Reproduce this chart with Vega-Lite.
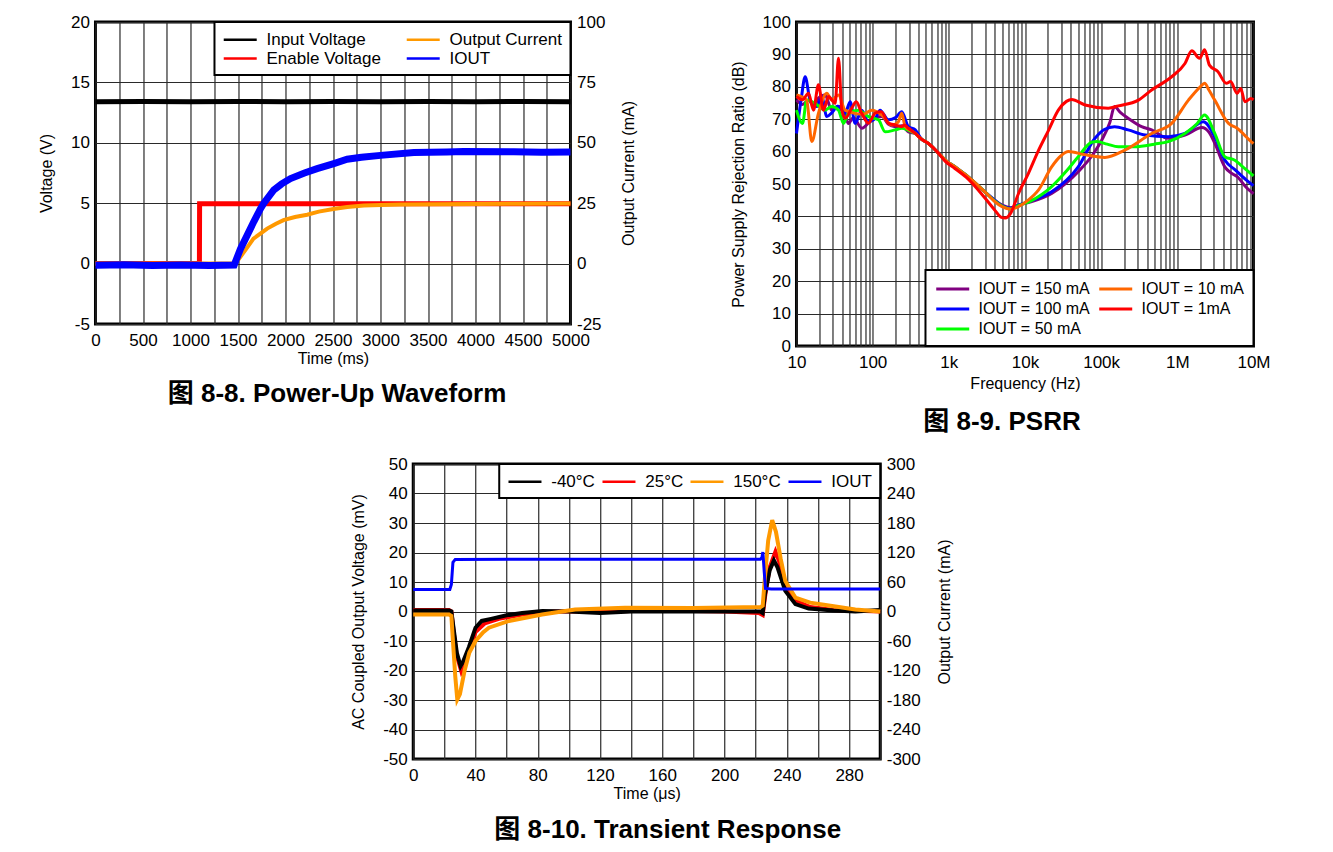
{
  "$schema": "https://vega.github.io/schema/vega-lite/v6.json",
  "background": "white",
  "padding": {"left": 37, "top": 11, "right": 0, "bottom": 0},
  "datasets": {
    "p1v": [
      {"t": 0, "v": 13.4, "series": "Input Voltage"},
      {"t": 500, "v": 13.42, "series": "Input Voltage"},
      {"t": 1000, "v": 13.4, "series": "Input Voltage"},
      {"t": 1500, "v": 13.42, "series": "Input Voltage"},
      {"t": 2000, "v": 13.4, "series": "Input Voltage"},
      {"t": 2500, "v": 13.42, "series": "Input Voltage"},
      {"t": 3000, "v": 13.4, "series": "Input Voltage"},
      {"t": 3500, "v": 13.42, "series": "Input Voltage"},
      {"t": 4000, "v": 13.4, "series": "Input Voltage"},
      {"t": 4500, "v": 13.42, "series": "Input Voltage"},
      {"t": 5000, "v": 13.4, "series": "Input Voltage"},
      {"t": 0, "v": 0, "series": "Enable Voltage"},
      {"t": 1094, "v": 0, "series": "Enable Voltage"},
      {"t": 1096, "v": 4.96, "series": "Enable Voltage"},
      {"t": 5000, "v": 4.96, "series": "Enable Voltage"}
    ],
    "p1i": [
      {"t": 0, "i": 0, "series": "Output Current"},
      {"t": 1474, "i": 0, "series": "Output Current"},
      {"t": 1520, "i": 2.5, "series": "Output Current"},
      {"t": 1600, "i": 6.8, "series": "Output Current"},
      {"t": 1663, "i": 10.3, "series": "Output Current"},
      {"t": 1750, "i": 12.8, "series": "Output Current"},
      {"t": 1807, "i": 14.5, "series": "Output Current"},
      {"t": 1900, "i": 16.5, "series": "Output Current"},
      {"t": 1979, "i": 18, "series": "Output Current"},
      {"t": 2100, "i": 19.3, "series": "Output Current"},
      {"t": 2228, "i": 20.2, "series": "Output Current"},
      {"t": 2350, "i": 21.5, "series": "Output Current"},
      {"t": 2505, "i": 22.6, "series": "Output Current"},
      {"t": 2650, "i": 23.4, "series": "Output Current"},
      {"t": 2825, "i": 24, "series": "Output Current"},
      {"t": 3000, "i": 24.3, "series": "Output Current"},
      {"t": 3200, "i": 24.5, "series": "Output Current"},
      {"t": 3600, "i": 24.6, "series": "Output Current"},
      {"t": 4000, "i": 24.7, "series": "Output Current"},
      {"t": 4500, "i": 24.8, "series": "Output Current"},
      {"t": 5000, "i": 24.9, "series": "Output Current"},
      {"t": 0, "i": -0.7, "series": "IOUT"},
      {"t": 300, "i": -0.5, "series": "IOUT"},
      {"t": 600, "i": -0.8, "series": "IOUT"},
      {"t": 900, "i": -0.6, "series": "IOUT"},
      {"t": 1200, "i": -0.8, "series": "IOUT"},
      {"t": 1460, "i": -0.6, "series": "IOUT"},
      {"t": 1526, "i": 6.1, "series": "IOUT"},
      {"t": 1600, "i": 12, "series": "IOUT"},
      {"t": 1667, "i": 17.4, "series": "IOUT"},
      {"t": 1737, "i": 22.7, "series": "IOUT"},
      {"t": 1772, "i": 25, "series": "IOUT"},
      {"t": 1877, "i": 30.5, "series": "IOUT"},
      {"t": 1960, "i": 33, "series": "IOUT"},
      {"t": 2053, "i": 35.2, "series": "IOUT"},
      {"t": 2200, "i": 37.5, "series": "IOUT"},
      {"t": 2333, "i": 39.3, "series": "IOUT"},
      {"t": 2509, "i": 41.4, "series": "IOUT"},
      {"t": 2649, "i": 43.2, "series": "IOUT"},
      {"t": 2800, "i": 44, "series": "IOUT"},
      {"t": 3000, "i": 44.8, "series": "IOUT"},
      {"t": 3351, "i": 46, "series": "IOUT"},
      {"t": 3700, "i": 46.2, "series": "IOUT"},
      {"t": 3874, "i": 46.4, "series": "IOUT"},
      {"t": 4403, "i": 46.3, "series": "IOUT"},
      {"t": 4700, "i": 46.1, "series": "IOUT"},
      {"t": 5000, "i": 46.2, "series": "IOUT"}
    ],
    "p2": [
      {"f": 10, "db": 75.9, "series": "IOUT = 150 mA"},
      {"f": 12, "db": 74.5, "series": "IOUT = 150 mA"},
      {"f": 14.4, "db": 75.9, "series": "IOUT = 150 mA"},
      {"f": 17, "db": 74, "series": "IOUT = 150 mA"},
      {"f": 19.4, "db": 76.5, "series": "IOUT = 150 mA"},
      {"f": 23.7, "db": 77.5, "series": "IOUT = 150 mA"},
      {"f": 29, "db": 72.8, "series": "IOUT = 150 mA"},
      {"f": 35, "db": 74, "series": "IOUT = 150 mA"},
      {"f": 43.5, "db": 71.3, "series": "IOUT = 150 mA"},
      {"f": 48, "db": 68.7, "series": "IOUT = 150 mA"},
      {"f": 56, "db": 70.5, "series": "IOUT = 150 mA"},
      {"f": 72, "db": 67.2, "series": "IOUT = 150 mA"},
      {"f": 97, "db": 69.8, "series": "IOUT = 150 mA"},
      {"f": 132, "db": 70.8, "series": "IOUT = 150 mA"},
      {"f": 160, "db": 68.5, "series": "IOUT = 150 mA"},
      {"f": 197, "db": 67.7, "series": "IOUT = 150 mA"},
      {"f": 240, "db": 68, "series": "IOUT = 150 mA"},
      {"f": 295, "db": 66.1, "series": "IOUT = 150 mA"},
      {"f": 363, "db": 65.6, "series": "IOUT = 150 mA"},
      {"f": 440, "db": 63.8, "series": "IOUT = 150 mA"},
      {"f": 540, "db": 62.5, "series": "IOUT = 150 mA"},
      {"f": 700, "db": 60, "series": "IOUT = 150 mA"},
      {"f": 900, "db": 57.4, "series": "IOUT = 150 mA"},
      {"f": 1200, "db": 55.3, "series": "IOUT = 150 mA"},
      {"f": 1800, "db": 52.2, "series": "IOUT = 150 mA"},
      {"f": 3000, "db": 47.5, "series": "IOUT = 150 mA"},
      {"f": 4000, "db": 45, "series": "IOUT = 150 mA"},
      {"f": 5000, "db": 43.5, "series": "IOUT = 150 mA"},
      {"f": 6500, "db": 42.7, "series": "IOUT = 150 mA"},
      {"f": 8200, "db": 43.5, "series": "IOUT = 150 mA"},
      {"f": 12000, "db": 44.5, "series": "IOUT = 150 mA"},
      {"f": 22400, "db": 47.1, "series": "IOUT = 150 mA"},
      {"f": 50000, "db": 53.8, "series": "IOUT = 150 mA"},
      {"f": 80000, "db": 59.5, "series": "IOUT = 150 mA"},
      {"f": 102000, "db": 63.6, "series": "IOUT = 150 mA"},
      {"f": 130000, "db": 69, "series": "IOUT = 150 mA"},
      {"f": 150000, "db": 73.9, "series": "IOUT = 150 mA"},
      {"f": 180000, "db": 72, "series": "IOUT = 150 mA"},
      {"f": 226000, "db": 70.3, "series": "IOUT = 150 mA"},
      {"f": 340000, "db": 67.7, "series": "IOUT = 150 mA"},
      {"f": 460000, "db": 66.7, "series": "IOUT = 150 mA"},
      {"f": 760000, "db": 64.1, "series": "IOUT = 150 mA"},
      {"f": 1260000, "db": 65.1, "series": "IOUT = 150 mA"},
      {"f": 2100000, "db": 67.4, "series": "IOUT = 150 mA"},
      {"f": 2600000, "db": 66, "series": "IOUT = 150 mA"},
      {"f": 3100000, "db": 62.6, "series": "IOUT = 150 mA"},
      {"f": 4200000, "db": 55.3, "series": "IOUT = 150 mA"},
      {"f": 5000000, "db": 53.5, "series": "IOUT = 150 mA"},
      {"f": 6100000, "db": 52.3, "series": "IOUT = 150 mA"},
      {"f": 8000000, "db": 49, "series": "IOUT = 150 mA"},
      {"f": 10000000, "db": 47, "series": "IOUT = 150 mA"},

      {"f": 10, "db": 65.6, "series": "IOUT = 100 mA"},
      {"f": 11.5, "db": 76, "series": "IOUT = 100 mA"},
      {"f": 13, "db": 83.1, "series": "IOUT = 100 mA"},
      {"f": 15.1, "db": 75.9, "series": "IOUT = 100 mA"},
      {"f": 18.5, "db": 73.9, "series": "IOUT = 100 mA"},
      {"f": 21.5, "db": 76.9, "series": "IOUT = 100 mA"},
      {"f": 25, "db": 70.8, "series": "IOUT = 100 mA"},
      {"f": 28.8, "db": 71.9, "series": "IOUT = 100 mA"},
      {"f": 35, "db": 74, "series": "IOUT = 100 mA"},
      {"f": 43.5, "db": 71.8, "series": "IOUT = 100 mA"},
      {"f": 50.7, "db": 75.4, "series": "IOUT = 100 mA"},
      {"f": 58.9, "db": 68.7, "series": "IOUT = 100 mA"},
      {"f": 72, "db": 72.8, "series": "IOUT = 100 mA"},
      {"f": 88, "db": 69.2, "series": "IOUT = 100 mA"},
      {"f": 110, "db": 70.5, "series": "IOUT = 100 mA"},
      {"f": 125, "db": 72.8, "series": "IOUT = 100 mA"},
      {"f": 161, "db": 69.8, "series": "IOUT = 100 mA"},
      {"f": 200, "db": 70.5, "series": "IOUT = 100 mA"},
      {"f": 241, "db": 72.3, "series": "IOUT = 100 mA"},
      {"f": 295, "db": 67.7, "series": "IOUT = 100 mA"},
      {"f": 363, "db": 66.7, "series": "IOUT = 100 mA"},
      {"f": 440, "db": 63.8, "series": "IOUT = 100 mA"},
      {"f": 540, "db": 62.5, "series": "IOUT = 100 mA"},
      {"f": 700, "db": 60, "series": "IOUT = 100 mA"},
      {"f": 900, "db": 57.4, "series": "IOUT = 100 mA"},
      {"f": 1200, "db": 55.3, "series": "IOUT = 100 mA"},
      {"f": 1800, "db": 52.2, "series": "IOUT = 100 mA"},
      {"f": 3000, "db": 47.5, "series": "IOUT = 100 mA"},
      {"f": 4000, "db": 45, "series": "IOUT = 100 mA"},
      {"f": 5000, "db": 43.3, "series": "IOUT = 100 mA"},
      {"f": 6500, "db": 42.5, "series": "IOUT = 100 mA"},
      {"f": 8200, "db": 43.5, "series": "IOUT = 100 mA"},
      {"f": 12000, "db": 44.8, "series": "IOUT = 100 mA"},
      {"f": 22400, "db": 47.6, "series": "IOUT = 100 mA"},
      {"f": 50000, "db": 55.3, "series": "IOUT = 100 mA"},
      {"f": 83000, "db": 64.1, "series": "IOUT = 100 mA"},
      {"f": 110000, "db": 66.8, "series": "IOUT = 100 mA"},
      {"f": 150000, "db": 67.7, "series": "IOUT = 100 mA"},
      {"f": 226000, "db": 66.7, "series": "IOUT = 100 mA"},
      {"f": 380000, "db": 65.1, "series": "IOUT = 100 mA"},
      {"f": 760000, "db": 64.6, "series": "IOUT = 100 mA"},
      {"f": 1260000, "db": 65.6, "series": "IOUT = 100 mA"},
      {"f": 2200000, "db": 69.2, "series": "IOUT = 100 mA"},
      {"f": 3100000, "db": 64.6, "series": "IOUT = 100 mA"},
      {"f": 4200000, "db": 57.4, "series": "IOUT = 100 mA"},
      {"f": 5800000, "db": 54.3, "series": "IOUT = 100 mA"},
      {"f": 8000000, "db": 51.3, "series": "IOUT = 100 mA"},
      {"f": 10000000, "db": 49.5, "series": "IOUT = 100 mA"},

      {"f": 10, "db": 72.8, "series": "IOUT = 50 mA"},
      {"f": 12, "db": 68.7, "series": "IOUT = 50 mA"},
      {"f": 13.6, "db": 75.9, "series": "IOUT = 50 mA"},
      {"f": 17.5, "db": 74.9, "series": "IOUT = 50 mA"},
      {"f": 23.7, "db": 72.8, "series": "IOUT = 50 mA"},
      {"f": 28.8, "db": 73.9, "series": "IOUT = 50 mA"},
      {"f": 35.6, "db": 72.8, "series": "IOUT = 50 mA"},
      {"f": 41.4, "db": 68.7, "series": "IOUT = 50 mA"},
      {"f": 48.1, "db": 71.8, "series": "IOUT = 50 mA"},
      {"f": 65.2, "db": 72.8, "series": "IOUT = 50 mA"},
      {"f": 88, "db": 70.8, "series": "IOUT = 50 mA"},
      {"f": 119, "db": 69.8, "series": "IOUT = 50 mA"},
      {"f": 146, "db": 66.1, "series": "IOUT = 50 mA"},
      {"f": 197, "db": 66.7, "series": "IOUT = 50 mA"},
      {"f": 241, "db": 67.2, "series": "IOUT = 50 mA"},
      {"f": 300, "db": 66.5, "series": "IOUT = 50 mA"},
      {"f": 363, "db": 65.6, "series": "IOUT = 50 mA"},
      {"f": 440, "db": 63.8, "series": "IOUT = 50 mA"},
      {"f": 540, "db": 62.5, "series": "IOUT = 50 mA"},
      {"f": 700, "db": 60, "series": "IOUT = 50 mA"},
      {"f": 900, "db": 57.4, "series": "IOUT = 50 mA"},
      {"f": 1200, "db": 55.3, "series": "IOUT = 50 mA"},
      {"f": 1800, "db": 52.2, "series": "IOUT = 50 mA"},
      {"f": 3000, "db": 47.5, "series": "IOUT = 50 mA"},
      {"f": 4000, "db": 44.8, "series": "IOUT = 50 mA"},
      {"f": 5000, "db": 43.2, "series": "IOUT = 50 mA"},
      {"f": 6500, "db": 42.3, "series": "IOUT = 50 mA"},
      {"f": 8200, "db": 43.3, "series": "IOUT = 50 mA"},
      {"f": 12000, "db": 44.8, "series": "IOUT = 50 mA"},
      {"f": 22400, "db": 49.2, "series": "IOUT = 50 mA"},
      {"f": 35000, "db": 54, "series": "IOUT = 50 mA"},
      {"f": 50000, "db": 58.4, "series": "IOUT = 50 mA"},
      {"f": 75000, "db": 62.9, "series": "IOUT = 50 mA"},
      {"f": 88000, "db": 63.1, "series": "IOUT = 50 mA"},
      {"f": 120000, "db": 62.3, "series": "IOUT = 50 mA"},
      {"f": 168000, "db": 61.5, "series": "IOUT = 50 mA"},
      {"f": 278000, "db": 61.5, "series": "IOUT = 50 mA"},
      {"f": 500000, "db": 62.3, "series": "IOUT = 50 mA"},
      {"f": 760000, "db": 63.1, "series": "IOUT = 50 mA"},
      {"f": 1260000, "db": 65.6, "series": "IOUT = 50 mA"},
      {"f": 1800000, "db": 68.5, "series": "IOUT = 50 mA"},
      {"f": 2280000, "db": 71.3, "series": "IOUT = 50 mA"},
      {"f": 3100000, "db": 65.6, "series": "IOUT = 50 mA"},
      {"f": 4200000, "db": 58.4, "series": "IOUT = 50 mA"},
      {"f": 5600000, "db": 57.4, "series": "IOUT = 50 mA"},
      {"f": 7500000, "db": 55, "series": "IOUT = 50 mA"},
      {"f": 10000000, "db": 52.5, "series": "IOUT = 50 mA"},

      {"f": 10, "db": 77.5, "series": "IOUT = 10 mA"},
      {"f": 13.6, "db": 75.9, "series": "IOUT = 10 mA"},
      {"f": 15.9, "db": 63.1, "series": "IOUT = 10 mA"},
      {"f": 19.4, "db": 71.8, "series": "IOUT = 10 mA"},
      {"f": 25, "db": 78, "series": "IOUT = 10 mA"},
      {"f": 29, "db": 75.9, "series": "IOUT = 10 mA"},
      {"f": 35.6, "db": 77.5, "series": "IOUT = 10 mA"},
      {"f": 43.5, "db": 72.8, "series": "IOUT = 10 mA"},
      {"f": 58.9, "db": 71.8, "series": "IOUT = 10 mA"},
      {"f": 75, "db": 71.5, "series": "IOUT = 10 mA"},
      {"f": 97.5, "db": 72.8, "series": "IOUT = 10 mA"},
      {"f": 132, "db": 71.3, "series": "IOUT = 10 mA"},
      {"f": 178, "db": 68.2, "series": "IOUT = 10 mA"},
      {"f": 215, "db": 69, "series": "IOUT = 10 mA"},
      {"f": 241, "db": 71.8, "series": "IOUT = 10 mA"},
      {"f": 267, "db": 67.7, "series": "IOUT = 10 mA"},
      {"f": 363, "db": 65.6, "series": "IOUT = 10 mA"},
      {"f": 440, "db": 63.8, "series": "IOUT = 10 mA"},
      {"f": 540, "db": 62.5, "series": "IOUT = 10 mA"},
      {"f": 700, "db": 60, "series": "IOUT = 10 mA"},
      {"f": 900, "db": 57.4, "series": "IOUT = 10 mA"},
      {"f": 1200, "db": 55.3, "series": "IOUT = 10 mA"},
      {"f": 1800, "db": 52.2, "series": "IOUT = 10 mA"},
      {"f": 3000, "db": 47.5, "series": "IOUT = 10 mA"},
      {"f": 4000, "db": 44.6, "series": "IOUT = 10 mA"},
      {"f": 5000, "db": 43, "series": "IOUT = 10 mA"},
      {"f": 6500, "db": 42.2, "series": "IOUT = 10 mA"},
      {"f": 8200, "db": 43, "series": "IOUT = 10 mA"},
      {"f": 11000, "db": 45, "series": "IOUT = 10 mA"},
      {"f": 15000, "db": 48.1, "series": "IOUT = 10 mA"},
      {"f": 22400, "db": 55.3, "series": "IOUT = 10 mA"},
      {"f": 30000, "db": 58.8, "series": "IOUT = 10 mA"},
      {"f": 37000, "db": 60, "series": "IOUT = 10 mA"},
      {"f": 61500, "db": 59, "series": "IOUT = 10 mA"},
      {"f": 112000, "db": 58.2, "series": "IOUT = 10 mA"},
      {"f": 206000, "db": 60.5, "series": "IOUT = 10 mA"},
      {"f": 460000, "db": 65.6, "series": "IOUT = 10 mA"},
      {"f": 842000, "db": 68.7, "series": "IOUT = 10 mA"},
      {"f": 1400000, "db": 75.9, "series": "IOUT = 10 mA"},
      {"f": 2000000, "db": 80, "series": "IOUT = 10 mA"},
      {"f": 2280000, "db": 81.1, "series": "IOUT = 10 mA"},
      {"f": 2600000, "db": 79, "series": "IOUT = 10 mA"},
      {"f": 3100000, "db": 75.9, "series": "IOUT = 10 mA"},
      {"f": 4700000, "db": 68.7, "series": "IOUT = 10 mA"},
      {"f": 6100000, "db": 67.2, "series": "IOUT = 10 mA"},
      {"f": 9300000, "db": 63.1, "series": "IOUT = 10 mA"},
      {"f": 10000000, "db": 62.5, "series": "IOUT = 10 mA"},

      {"f": 10, "db": 77, "series": "IOUT = 1mA"},
      {"f": 12, "db": 76, "series": "IOUT = 1mA"},
      {"f": 14.4, "db": 78, "series": "IOUT = 1mA"},
      {"f": 16.7, "db": 72.8, "series": "IOUT = 1mA"},
      {"f": 19.4, "db": 80.6, "series": "IOUT = 1mA"},
      {"f": 22.6, "db": 72.8, "series": "IOUT = 1mA"},
      {"f": 26.3, "db": 77, "series": "IOUT = 1mA"},
      {"f": 32.2, "db": 74.9, "series": "IOUT = 1mA"},
      {"f": 35.6, "db": 88.8, "series": "IOUT = 1mA"},
      {"f": 39.4, "db": 72.8, "series": "IOUT = 1mA"},
      {"f": 43.7, "db": 70.3, "series": "IOUT = 1mA"},
      {"f": 52, "db": 73, "series": "IOUT = 1mA"},
      {"f": 61, "db": 75.4, "series": "IOUT = 1mA"},
      {"f": 71.3, "db": 72, "series": "IOUT = 1mA"},
      {"f": 88, "db": 68.8, "series": "IOUT = 1mA"},
      {"f": 108, "db": 71.9, "series": "IOUT = 1mA"},
      {"f": 130, "db": 72.3, "series": "IOUT = 1mA"},
      {"f": 161, "db": 68.8, "series": "IOUT = 1mA"},
      {"f": 198, "db": 68.2, "series": "IOUT = 1mA"},
      {"f": 239, "db": 67.7, "series": "IOUT = 1mA"},
      {"f": 260, "db": 68.2, "series": "IOUT = 1mA"},
      {"f": 296, "db": 67.2, "series": "IOUT = 1mA"},
      {"f": 363, "db": 65.6, "series": "IOUT = 1mA"},
      {"f": 440, "db": 63.8, "series": "IOUT = 1mA"},
      {"f": 540, "db": 62.5, "series": "IOUT = 1mA"},
      {"f": 700, "db": 60, "series": "IOUT = 1mA"},
      {"f": 900, "db": 57, "series": "IOUT = 1mA"},
      {"f": 1200, "db": 54.8, "series": "IOUT = 1mA"},
      {"f": 1800, "db": 51.5, "series": "IOUT = 1mA"},
      {"f": 3000, "db": 45.6, "series": "IOUT = 1mA"},
      {"f": 4000, "db": 42, "series": "IOUT = 1mA"},
      {"f": 4900, "db": 39.7, "series": "IOUT = 1mA"},
      {"f": 5500, "db": 39.5, "series": "IOUT = 1mA"},
      {"f": 6500, "db": 41, "series": "IOUT = 1mA"},
      {"f": 8200, "db": 47, "series": "IOUT = 1mA"},
      {"f": 11100, "db": 53.3, "series": "IOUT = 1mA"},
      {"f": 15000, "db": 60.3, "series": "IOUT = 1mA"},
      {"f": 20300, "db": 66.5, "series": "IOUT = 1mA"},
      {"f": 27400, "db": 72.8, "series": "IOUT = 1mA"},
      {"f": 35000, "db": 75.5, "series": "IOUT = 1mA"},
      {"f": 41000, "db": 76.1, "series": "IOUT = 1mA"},
      {"f": 61500, "db": 74.4, "series": "IOUT = 1mA"},
      {"f": 124000, "db": 73.4, "series": "IOUT = 1mA"},
      {"f": 168000, "db": 74.1, "series": "IOUT = 1mA"},
      {"f": 308000, "db": 75.9, "series": "IOUT = 1mA"},
      {"f": 460000, "db": 79, "series": "IOUT = 1mA"},
      {"f": 842000, "db": 83.1, "series": "IOUT = 1mA"},
      {"f": 1260000, "db": 87.2, "series": "IOUT = 1mA"},
      {"f": 1550000, "db": 91.1, "series": "IOUT = 1mA"},
      {"f": 1960000, "db": 88.8, "series": "IOUT = 1mA"},
      {"f": 2280000, "db": 91.4, "series": "IOUT = 1mA"},
      {"f": 2640000, "db": 86.7, "series": "IOUT = 1mA"},
      {"f": 3400000, "db": 84.7, "series": "IOUT = 1mA"},
      {"f": 4400000, "db": 81.1, "series": "IOUT = 1mA"},
      {"f": 5000000, "db": 81.6, "series": "IOUT = 1mA"},
      {"f": 6100000, "db": 78, "series": "IOUT = 1mA"},
      {"f": 6800000, "db": 79.5, "series": "IOUT = 1mA"},
      {"f": 7700000, "db": 75.4, "series": "IOUT = 1mA"},
      {"f": 9300000, "db": 76.4, "series": "IOUT = 1mA"},
      {"f": 10000000, "db": 76, "series": "IOUT = 1mA"}
    ],
    "p3v": [
      {"t": 0, "mv": 0.5, "series": "25°C"},
      {"t": 23, "mv": 0.5, "series": "25°C"},
      {"t": 24.5, "mv": 0, "series": "25°C"},
      {"t": 26, "mv": -7, "series": "25°C"},
      {"t": 28, "mv": -15, "series": "25°C"},
      {"t": 31, "mv": -20.5, "series": "25°C"},
      {"t": 33, "mv": -18.5, "series": "25°C"},
      {"t": 36, "mv": -13, "series": "25°C"},
      {"t": 40, "mv": -7, "series": "25°C"},
      {"t": 46, "mv": -4, "series": "25°C"},
      {"t": 55, "mv": -2.5, "series": "25°C"},
      {"t": 70, "mv": -1, "series": "25°C"},
      {"t": 90, "mv": 0, "series": "25°C"},
      {"t": 120, "mv": 0, "series": "25°C"},
      {"t": 160, "mv": 0.3, "series": "25°C"},
      {"t": 200, "mv": 0, "series": "25°C"},
      {"t": 222, "mv": -0.5, "series": "25°C"},
      {"t": 224.5, "mv": -1.2, "series": "25°C"},
      {"t": 226, "mv": 5, "series": "25°C"},
      {"t": 229, "mv": 15, "series": "25°C"},
      {"t": 232.7, "mv": 20.3, "series": "25°C"},
      {"t": 235, "mv": 17, "series": "25°C"},
      {"t": 239, "mv": 8, "series": "25°C"},
      {"t": 245.5, "mv": 3.7, "series": "25°C"},
      {"t": 255, "mv": 1.5, "series": "25°C"},
      {"t": 270, "mv": 0.5, "series": "25°C"},
      {"t": 300, "mv": 0, "series": "25°C"},
      {"t": 0, "mv": 0.3, "series": "-40°C"},
      {"t": 23, "mv": 0.3, "series": "-40°C"},
      {"t": 24.5, "mv": 0, "series": "-40°C"},
      {"t": 26, "mv": -6, "series": "-40°C"},
      {"t": 28, "mv": -14, "series": "-40°C"},
      {"t": 30.4, "mv": -18.5, "series": "-40°C"},
      {"t": 32, "mv": -17, "series": "-40°C"},
      {"t": 35.8, "mv": -12, "series": "-40°C"},
      {"t": 40, "mv": -5.5, "series": "-40°C"},
      {"t": 44, "mv": -3.2, "series": "-40°C"},
      {"t": 50, "mv": -2.5, "series": "-40°C"},
      {"t": 60, "mv": -1.3, "series": "-40°C"},
      {"t": 70, "mv": -0.5, "series": "-40°C"},
      {"t": 83, "mv": 0.2, "series": "-40°C"},
      {"t": 100, "mv": 0, "series": "-40°C"},
      {"t": 120, "mv": -0.5, "series": "-40°C"},
      {"t": 140, "mv": 0, "series": "-40°C"},
      {"t": 180, "mv": 0, "series": "-40°C"},
      {"t": 223, "mv": 0, "series": "-40°C"},
      {"t": 224.5, "mv": -0.5, "series": "-40°C"},
      {"t": 226, "mv": 6, "series": "-40°C"},
      {"t": 229, "mv": 14, "series": "-40°C"},
      {"t": 231.7, "mv": 17.3, "series": "-40°C"},
      {"t": 234, "mv": 15, "series": "-40°C"},
      {"t": 239, "mv": 7, "series": "-40°C"},
      {"t": 245.5, "mv": 2.5, "series": "-40°C"},
      {"t": 254, "mv": 1, "series": "-40°C"},
      {"t": 270, "mv": 0.3, "series": "-40°C"},
      {"t": 284, "mv": 0, "series": "-40°C"},
      {"t": 300, "mv": 0.5, "series": "-40°C"},
      {"t": 0, "mv": -1, "series": "150°C"},
      {"t": 23, "mv": -1, "series": "150°C"},
      {"t": 24.5, "mv": -1.5, "series": "150°C"},
      {"t": 25.5, "mv": -10, "series": "150°C"},
      {"t": 27, "mv": -22, "series": "150°C"},
      {"t": 28.3, "mv": -29.8, "series": "150°C"},
      {"t": 30, "mv": -28, "series": "150°C"},
      {"t": 33, "mv": -20, "series": "150°C"},
      {"t": 36, "mv": -14, "series": "150°C"},
      {"t": 40, "mv": -10, "series": "150°C"},
      {"t": 45, "mv": -7, "series": "150°C"},
      {"t": 48.6, "mv": -5.5, "series": "150°C"},
      {"t": 61.5, "mv": -3.2, "series": "150°C"},
      {"t": 82.8, "mv": -1, "series": "150°C"},
      {"t": 104, "mv": 0.7, "series": "150°C"},
      {"t": 136, "mv": 1.3, "series": "150°C"},
      {"t": 180, "mv": 1.2, "series": "150°C"},
      {"t": 223, "mv": 1.5, "series": "150°C"},
      {"t": 224.5, "mv": 2, "series": "150°C"},
      {"t": 226, "mv": 12, "series": "150°C"},
      {"t": 228, "mv": 24, "series": "150°C"},
      {"t": 230.6, "mv": 31, "series": "150°C"},
      {"t": 233, "mv": 27, "series": "150°C"},
      {"t": 236, "mv": 18, "series": "150°C"},
      {"t": 239, "mv": 10.3, "series": "150°C"},
      {"t": 245.5, "mv": 4.7, "series": "150°C"},
      {"t": 255, "mv": 3, "series": "150°C"},
      {"t": 262.7, "mv": 2.4, "series": "150°C"},
      {"t": 284, "mv": 0.7, "series": "150°C"},
      {"t": 300, "mv": 0, "series": "150°C"}
    ],
    "p3i": [
      {"t": 0, "ma": 45, "series": "IOUT"},
      {"t": 23.5, "ma": 45, "series": "IOUT"},
      {"t": 24.5, "ma": 55, "series": "IOUT"},
      {"t": 25.5, "ma": 100, "series": "IOUT"},
      {"t": 27, "ma": 106, "series": "IOUT"},
      {"t": 100, "ma": 106.5, "series": "IOUT"},
      {"t": 223, "ma": 106.5, "series": "IOUT"},
      {"t": 224, "ma": 110, "series": "IOUT"},
      {"t": 224.6, "ma": 121, "series": "IOUT"},
      {"t": 225.5, "ma": 80, "series": "IOUT"},
      {"t": 226.3, "ma": 47, "series": "IOUT"},
      {"t": 230, "ma": 46, "series": "IOUT"},
      {"t": 300, "ma": 46, "series": "IOUT"}
    ]
  },
  "vconcat": [
    {
      "hconcat": [
        {
          "width": 475,
          "height": 302,
          "title": {"text": "图 8-8. Power-Up Waveform", "offset": 15, "dx": 4},
          "encoding": {
            "x": {"field": "t", "type": "quantitative", "scale": {"domain": [0, 5000], "nice": false},
              "axis": {"title": "Time (ms)", "format": "d",
                "values": [0, 250, 500, 750, 1000, 1250, 1500, 1750, 2000, 2250, 2500, 2750, 3000, 3250, 3500, 3750, 4000, 4250, 4500, 4750, 5000],
                "labelExpr": "datum.value % 500 == 0 ? datum.label : ''"}}
          },
          "layer": [
            {
              "layer": [
                {
                  "data": {"name": "p1v"},
                  "transform": [{"filter": "datum.series == 'Input Voltage'"}],
                  "mark": {"type": "line", "strokeWidth": 5},
                  "encoding": {
                    "y": {"field": "v", "type": "quantitative", "scale": {"domain": [-5, 20], "nice": false, "zero": false}, "axis": {"title": "Voltage (V)", "values": [-5, 0, 5, 10, 15, 20], "labelExpr": "'' + datum.value"}},
                    "color": {"field": "series", "type": "nominal",
                      "scale": {"domain": ["Input Voltage", "Enable Voltage", "Output Current", "IOUT"], "range": ["#000000", "#FF0000", "#FF9900", "#0000FF"]},
                      "legend": {"title": null, "orient": "top-right", "offset": 0, "columns": 2, "padding": 8, "rowPadding": 1, "columnPadding": 20, "symbolType": "M-1,0H3", "symbolSize": 272, "symbolStrokeWidth": 2.5, "labelOffset": 25}}
                  }
                },
                {
                  "data": {"name": "p1v"},
                  "transform": [{"filter": "datum.series == 'Enable Voltage'"}],
                  "mark": {"type": "line", "strokeWidth": 5},
                  "encoding": {
                    "y": {"field": "v", "type": "quantitative", "scale": {"domain": [-5, 20], "nice": false, "zero": false}, "axis": {"title": "Voltage (V)", "values": [-5, 0, 5, 10, 15, 20], "labelExpr": "'' + datum.value"}},
                    "color": {"field": "series", "type": "nominal"}
                  }
                }
              ]
            },
            {
              "layer": [
                {
                  "data": {"name": "p1i"},
                  "transform": [{"filter": "datum.series == 'Output Current'"}],
                  "mark": {"type": "line", "strokeWidth": 4},
                  "encoding": {
                    "y": {"field": "i", "type": "quantitative", "scale": {"domain": [-25, 100], "nice": false, "zero": false}, "axis": {"title": "Output Current (mA)", "orient": "right", "grid": false, "titleAngle": 270, "titleBaseline": "top", "values": [-25, 0, 25, 50, 75, 100], "labelExpr": "'' + datum.value"}},
                    "color": {"field": "series", "type": "nominal"}
                  }
                },
                {
                  "data": {"name": "p1i"},
                  "transform": [{"filter": "datum.series == 'IOUT'"}],
                  "mark": {"type": "line", "strokeWidth": 7},
                  "encoding": {
                    "y": {"field": "i", "type": "quantitative", "scale": {"domain": [-25, 100], "nice": false, "zero": false}, "axis": {"title": "Output Current (mA)", "orient": "right", "grid": false, "titleAngle": 270, "titleBaseline": "top", "values": [-25, 0, 25, 50, 75, 100], "labelExpr": "'' + datum.value"}},
                    "color": {"field": "series", "type": "nominal"}
                  }
                }
              ]
            }
          ],
          "resolve": {"scale": {"y": "independent"}}
        },
        {
          "width": 457,
          "height": 324,
          "title": {"text": "图 8-9. PSRR", "offset": 18, "dx": -23},
          "data": {"name": "p2"},
          "mark": {"type": "line", "strokeWidth": 3, "interpolate": "monotone"},
          "encoding": {
            "x": {"field": "f", "type": "quantitative", "scale": {"type": "log", "domain": [10, 10000000], "nice": false},
              "axis": {"title": "Frequency (Hz)", "titlePadding": 5,
                "values": [10, 20, 30, 40, 50, 60, 70, 80, 90, 100, 200, 300, 400, 500, 600, 700, 800, 900, 1000, 2000, 3000, 4000, 5000, 6000, 7000, 8000, 9000, 10000, 20000, 30000, 40000, 50000, 60000, 70000, 80000, 90000, 100000, 200000, 300000, 400000, 500000, 600000, 700000, 800000, 900000, 1000000, 2000000, 3000000, 4000000, 5000000, 6000000, 7000000, 8000000, 9000000, 10000000],
                "labelExpr": "datum.value == 10 ? '10' : datum.value == 100 ? '100' : datum.value == 1000 ? '1k' : datum.value == 10000 ? '10k' : datum.value == 100000 ? '100k' : datum.value == 1000000 ? '1M' : datum.value == 10000000 ? '10M' : ''"}},
            "y": {"field": "db", "type": "quantitative", "scale": {"domain": [0, 100], "nice": false}, "axis": {"title": "Power Supply Rejection Ratio (dB)", "values": [0, 10, 20, 30, 40, 50, 60, 70, 80, 90, 100]}},
            "color": {"field": "series", "type": "nominal",
              "scale": {"domain": ["IOUT = 150 mA", "IOUT = 100 mA", "IOUT = 50 mA", "IOUT = 10 mA", "IOUT = 1mA"], "range": ["#800080", "#0000FF", "#00FF00", "#FF6600", "#FF0000"]},
              "legend": {"title": null, "orient": "bottom-right", "offset": 0, "columns": 2, "padding": 9, "rowPadding": 2, "columnPadding": 2, "labelFontSize": 16, "symbolType": "M-1,0H3", "symbolSize": 272, "symbolStrokeWidth": 3, "labelOffset": 24}}
          }
        }
      ],
      "spacing": 90,
      "resolve": {"scale": {"color": "independent", "x": "independent", "y": "independent"}, "legend": {"color": "independent"}}
    },
    {
      "width": 467,
      "height": 295,
      "title": {"text": "图 8-10. Transient Response", "offset": 16, "dx": 21},
      "encoding": {
        "x": {"field": "t", "type": "quantitative", "scale": {"domain": [0, 300], "nice": false},
          "axis": {"title": "Time (μs)", "values": [0, 20, 40, 60, 80, 100, 120, 140, 160, 180, 200, 220, 240, 260, 280, 300],
            "labelExpr": "datum.value % 40 == 0 ? datum.label : ''"}}
      },
      "layer": [
        {
          "data": {"name": "p3v"},
          "mark": {"type": "line", "strokeWidth": 4},
          "encoding": {
            "y": {"field": "mv", "type": "quantitative", "scale": {"domain": [-50, 50], "nice": false, "zero": false}, "axis": {"title": "AC Coupled Output Voltage (mV)", "values": [-50, -40, -30, -20, -10, 0, 10, 20, 30, 40, 50], "labelExpr": "'' + datum.value"}},
            "color": {"field": "series", "type": "nominal",
              "scale": {"domain": ["-40°C", "25°C", "150°C", "IOUT"], "range": ["#000000", "#FF0000", "#FF9900", "#0000FF"]},
              "legend": {"title": null, "orient": "top-right", "offset": 0, "direction": "horizontal", "columns": 4, "gridAlign": "each", "padding": 8, "columnPadding": 2, "symbolType": "M-1,0H3", "symbolSize": 272, "symbolStrokeWidth": 2.5, "labelOffset": 25}}
          }
        },
        {
          "data": {"name": "p3i"},
          "mark": {"type": "line", "strokeWidth": 3},
          "encoding": {
            "y": {"field": "ma", "type": "quantitative", "scale": {"domain": [-300, 300], "nice": false, "zero": false}, "axis": {"title": "Output Current (mA)", "orient": "right", "grid": false, "titleAngle": 270, "titleBaseline": "top", "values": [-300, -240, -180, -120, -60, 0, 60, 120, 180, 240, 300], "labelExpr": "'' + datum.value"}},
            "color": {"field": "series", "type": "nominal"}
          }
        }
      ],
      "resolve": {"scale": {"y": "independent"}}
    }
  ],
  "spacing": 16,
  "center": true,
  "resolve": {"scale": {"color": "independent", "x": "independent", "y": "independent"}, "legend": {"color": "independent"}},
  "config": {
    "font": "Liberation Sans",
    "view": {"stroke": "#000000", "strokeWidth": 3},
    "axis": {
      "domain": false, "ticks": false, "grid": true,
      "gridColor": "#2a2a2a", "gridWidth": 1.2, "gridOpacity": 1,
      "labelFont": "Liberation Sans", "labelFontSize": 17, "labelColor": "#000000", "labelPadding": 6,
      "labelOverlap": false, "labelFlush": false, "labelBound": false,
      "titleFont": "Liberation Sans", "titleFontSize": 16, "titleFontWeight": "normal", "titleColor": "#000000"
    },
    "axisX": {"labelPadding": 8, "titlePadding": 2},
    "axisY": {"titlePadding": 16},
    "legend": {"labelFont": "Liberation Sans", "labelFontSize": 17, "labelColor": "#000000", "fillColor": "#FFFFFF", "strokeColor": "#000000", "strokeWidth": 2, "cornerRadius": 0},
    "title": {"font": "'Liberation Sans', 'Noto Sans CJK SC', sans-serif", "fontSize": 26, "fontWeight": "bold", "color": "#000000", "orient": "bottom", "anchor": "middle"}
  }
}
